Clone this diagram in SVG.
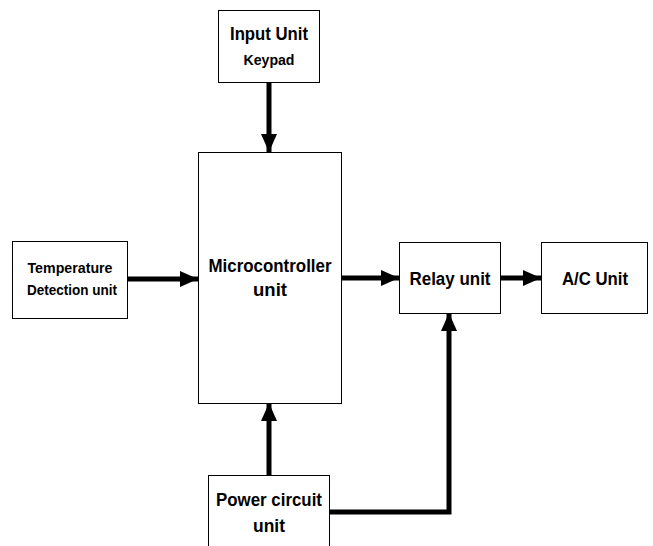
<svg xmlns="http://www.w3.org/2000/svg" width="653" height="546" viewBox="0 0 653 546">
<style>
.box{fill:#fff;stroke:#000;stroke-width:1}
.t{font-family:"Liberation Sans",Arial,sans-serif;font-weight:bold;text-anchor:middle;fill:#000}
.c{stroke:#000;stroke-width:5;fill:none}
</style>
<defs>
<marker id="ah" markerUnits="userSpaceOnUse" markerWidth="20" markerHeight="18" refX="18" refY="8" orient="auto">
<path d="M0,0 L18,8 L0,16 Z" fill="#000"/>
</marker>
</defs>
<rect width="653" height="546" fill="#fff"/>
<g id="input">
<rect class="box" x="218.5" y="10.5" width="101" height="72"/>
<text class="t" x="269" y="40" font-size="18" textLength="78" lengthAdjust="spacingAndGlyphs">Input Unit</text>
<text class="t" x="269" y="65" font-size="14" textLength="51" lengthAdjust="spacingAndGlyphs">Keypad</text>
</g>
<g id="micro">
<rect class="box" x="198.5" y="152.5" width="143" height="251"/>
<text class="t" x="270" y="272" font-size="18" textLength="123" lengthAdjust="spacingAndGlyphs">Microcontroller</text>
<text class="t" x="270" y="296" font-size="18" textLength="34" lengthAdjust="spacingAndGlyphs">unit</text>
</g>
<g id="temp">
<rect class="box" x="12.5" y="241.5" width="115" height="77"/>
<text class="t" x="70" y="273" font-size="15.5" textLength="85" lengthAdjust="spacingAndGlyphs">Temperature</text>
<text class="t" x="72" y="295" font-size="15.5" textLength="90" lengthAdjust="spacingAndGlyphs">Detection unit</text>
</g>
<g id="relay">
<rect class="box" x="399.5" y="242.5" width="101" height="71"/>
<text class="t" x="450" y="285" font-size="18" textLength="81" lengthAdjust="spacingAndGlyphs">Relay unit</text>
</g>
<g id="ac">
<rect class="box" x="541.5" y="242.5" width="106" height="71"/>
<text class="t" x="595" y="285" font-size="18" textLength="66" lengthAdjust="spacingAndGlyphs">A/C Unit</text>
</g>
<g id="power">
<rect class="box" x="208.5" y="475.5" width="121" height="80"/>
<text class="t" x="269" y="506" font-size="18" textLength="106" lengthAdjust="spacingAndGlyphs">Power circuit</text>
<text class="t" x="269" y="532" font-size="18" textLength="32" lengthAdjust="spacingAndGlyphs">unit</text>
</g>
<g id="connectors">
<line class="c" x1="269" y1="82" x2="269" y2="152" marker-end="url(#ah)"/>
<line class="c" x1="127" y1="279" x2="198" y2="279" marker-end="url(#ah)"/>
<line class="c" x1="341" y1="278" x2="399" y2="278" marker-end="url(#ah)"/>
<line class="c" x1="500" y1="278" x2="541" y2="278" marker-end="url(#ah)"/>
<line class="c" x1="269" y1="475" x2="269" y2="403" marker-end="url(#ah)"/>
<polyline class="c" points="329,512 449,512 449,313" marker-end="url(#ah)"/>
</g>
</svg>
